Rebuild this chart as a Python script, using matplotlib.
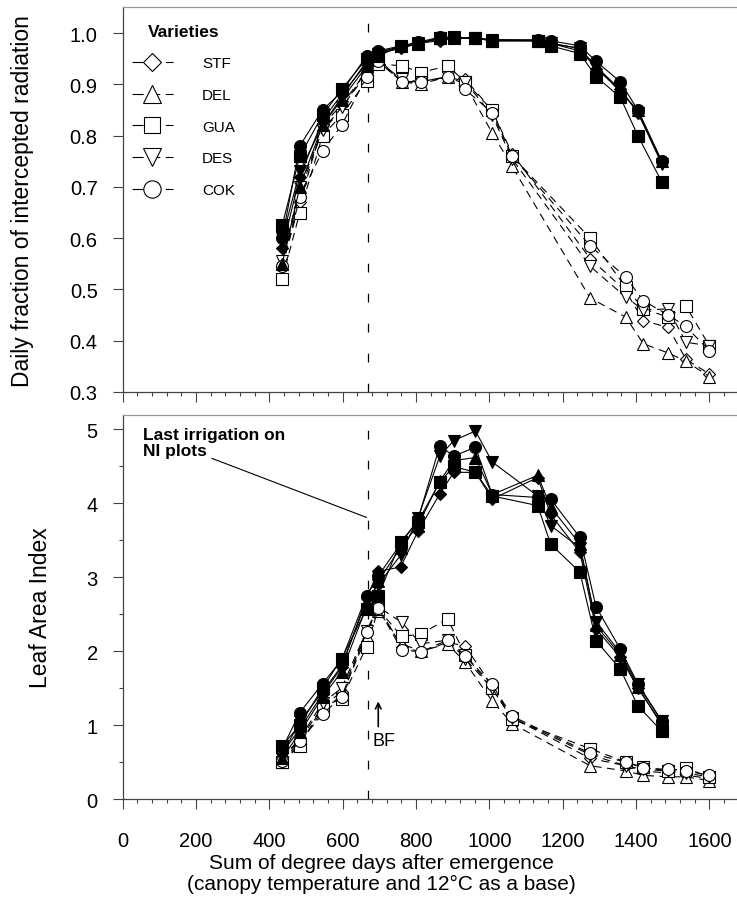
import matplotlib
matplotlib.use("Agg")
import matplotlib.pyplot as plt
from matplotlib.lines import Line2D
from matplotlib.ticker import MultipleLocator

plt.rcParams['font.family'] = ['Liberation Sans', 'DejaVu Sans']

varieties = ['STF', 'DEL', 'GUA', 'DES', 'COK']
markers = ['D', '^', 's', 'v', 'o']
msizes = [6.0, 8.5, 8.3, 8.5, 8.6]

# degree days of the sampling dates (FI = irrigated, NI = not irrigated)
x_fi = [435, 483, 545, 597, 665, 697, 758, 805, 865, 903, 962, 1008,
        1132, 1167, 1247, 1291, 1357, 1405, 1470]
x_ni = [435, 483, 545, 597, 665, 697, 761, 813, 886, 934, 1007, 1062,
        1275, 1372, 1420, 1488, 1536, 1600]

# daily fraction of intercepted radiation
rad_fi = {
    'STF': [.58, .72, .83, .88, .94, .965, .97, .98, .985, .99, .99, .985,
            .985, .98, .97, .93, .89, .845, .75],
    'DEL': [.55, .70, .82, .87, .935, .96, .975, .98, .99, .99, .99, .985,
            .985, .98, .965, .935, .885, .85, .75],
    'GUA': [.625, .76, .84, .89, .95, .955, .975, .978, .99, .992, .99, .985,
            .985, .975, .96, .915, .875, .80, .71],
    'DES': [.60, .73, .82, .875, .945, .96, .97, .98, .99, .99, .99, .987,
            .985, .98, .97, .935, .89, .845, .745],
    'COK': [.60, .78, .85, .885, .955, .965, .975, .982, .992, .992, .99, .987,
            .987, .985, .975, .945, .905, .85, .75],
}
rad_ni = {
    'STF': [.545, .67, .82, .86, .925, .945, .905, .905, .915, .91, .85, .765,
            .56, .497, .439, .426, .364, .335],
    'DEL': [.55, .69, .81, .85, .93, .95, .905, .90, .915, .90, .806, .74,
            .483, .446, .394, .376, .36, .33],
    'GUA': [.52, .65, .80, .84, .907, .94, .936, .923, .936, .905, .85, .76,
            .60, .504, .462, .446, .468, .39],
    'DES': [.555, .70, .81, .855, .92, .945, .91, .905, .915, .905, .84, .755,
            .545, .485, .46, .462, .397, .39],
    'COK': [.545, .68, .77, .82, .915, .945, .905, .905, .914, .89, .845, .76,
            .585, .524, .478, .45, .428, .38],
}

# leaf area index
lai_fi = {
    'STF': [0.62, 0.95, 1.42, 1.78, 2.72, 3.08, 3.14, 3.62, 4.13, 4.42, 4.42, 4.06,
            4.35, 3.85, 3.34, 2.30, 1.92, 1.50, 1.02],
    'DEL': [0.55, 0.90, 1.38, 1.72, 2.60, 2.95, 3.40, 3.70, 4.30, 4.58, 4.62, 4.12,
            4.38, 3.95, 3.45, 2.35, 1.95, 1.52, 1.00],
    'GUA': [0.72, 1.00, 1.50, 1.90, 2.57, 2.75, 3.48, 3.75, 4.29, 4.50, 4.42, 4.10,
            3.97, 3.45, 3.07, 2.14, 1.76, 1.26, 0.92],
    'DES': [0.60, 1.05, 1.45, 1.80, 2.68, 2.90, 3.30, 3.80, 4.64, 4.85, 4.98, 4.56,
            4.10, 3.70, 3.40, 2.40, 1.98, 1.55, 1.05],
    'COK': [0.68, 1.17, 1.56, 1.88, 2.75, 3.02, 3.45, 3.78, 4.78, 4.64, 4.76, 4.12,
            4.08, 4.06, 3.54, 2.60, 2.03, 1.56, 1.06],
}
lai_ni = {
    'STF': [0.55, 0.80, 1.25, 1.45, 2.25, 2.60, 2.06, 1.99, 2.12, 2.07, 1.53, 1.10,
            0.55, 0.45, 0.38, 0.35, 0.32, 0.28],
    'DEL': [0.50, 0.75, 1.20, 1.40, 2.20, 2.55, 2.10, 2.00, 2.10, 1.85, 1.33, 1.02,
            0.45, 0.38, 0.32, 0.30, 0.30, 0.25],
    'GUA': [0.50, 0.72, 1.26, 1.35, 2.06, 2.57, 2.20, 2.23, 2.44, 1.95, 1.50, 1.08,
            0.68, 0.50, 0.43, 0.38, 0.42, 0.30],
    'DES': [0.55, 0.82, 1.30, 1.50, 2.28, 2.60, 2.39, 2.10, 2.15, 1.90, 1.50, 1.10,
            0.60, 0.45, 0.40, 0.38, 0.35, 0.30],
    'COK': [0.52, 0.78, 1.15, 1.38, 2.26, 2.58, 2.02, 1.99, 2.15, 1.94, 1.55, 1.12,
            0.62, 0.50, 0.42, 0.40, 0.38, 0.32],
}

last_irrigation = 670

fig = plt.figure(figsize=(7.37, 9.04), dpi=100)
ax1 = fig.add_axes([0.1665, 0.5653, 0.8457, 0.4254])
ax2 = fig.add_axes([0.1665, 0.11504, 0.8457, 0.4251])


def draw(ax, ni, fi):
    for v, m, ms in zip(varieties, markers, msizes):
        ax.plot(x_ni, ni[v], ls=(0, (7, 5)), lw=0.8, color='k', marker=m, ms=ms,
                mfc='white', mec='k', mew=0.8)
    for v, m, ms in zip(varieties, markers, msizes):
        ax.plot(x_fi, fi[v], ls='-', lw=0.8, color='k', marker=m, ms=ms,
                mfc='k', mec='k', mew=0.8)
    ax.axvline(last_irrigation, color='k', lw=0.9, ls=(0, (7, 17)), zorder=0)


draw(ax1, rad_ni, rad_fi)
draw(ax2, lai_ni, lai_fi)

for ax in (ax1, ax2):
    ax.set_xlim(0, 1700)
    ax.xaxis.set_major_locator(MultipleLocator(200))
    ax.xaxis.set_minor_locator(MultipleLocator(40))
    ax.tick_params(which='major', direction='out', length=7, width=0.8,
                   color='#444444', labelsize=14.5)
    ax.tick_params(which='minor', direction='out', length=3.2, width=0.8,
                   color='#444444')
    ax.tick_params(axis='y', pad=11)
    ax.tick_params(axis='x', pad=16)
    for s in ('left', 'bottom'):
        ax.spines[s].set_color('#444444')
        ax.spines[s].set_linewidth(0.9)
    for s in ('top', 'right'):
        ax.spines[s].set_color('#999999')
        ax.spines[s].set_linewidth(0.9)

ax1.set_ylim(0.3, 1.05)
ax1.yaxis.set_major_locator(MultipleLocator(0.1))
ax1.yaxis.set_major_formatter('{x:.1f}')
ax1.tick_params(axis='x', labelbottom=False)
ax1.set_ylabel('Daily fraction of intercepted radiation', fontsize=16.5)
ax1.yaxis.set_label_coords(-0.142, 0.5)

ax2.set_ylim(0, 5.2)
ax2.yaxis.set_major_locator(MultipleLocator(1))
ax2.yaxis.set_minor_locator(MultipleLocator(0.5))
ax2.set_ylabel('Leaf Area Index', fontsize=16.5)
ax2.yaxis.set_label_coords(-0.113, 0.5)
ax2.set_xlabel('Sum of degree days after emergence\n(canopy temperature and 12°C as a base)',
               fontsize=15, linespacing=1.1)
ax2.xaxis.set_label_coords(0.415, -0.141)

# legend of varieties
handles = [Line2D([], [], color='k', lw=0.8, ls=(0, (10, 5)), marker=m, ms=ms * 1.45,
                  mfc='white', mec='k', mew=0.8)
           for m, ms in zip(markers, msizes)]
leg = ax1.legend(handles, varieties, title='Varieties', loc='upper left',
                 bbox_to_anchor=(0.0144, 0.958), frameon=False, fontsize=11,
                 borderpad=0, borderaxespad=0, handlelength=2.7, handletextpad=1.9,
                 labelspacing=1.16, title_fontproperties={'weight': 'bold', 'size': 12.5})

# annotations in the LAI panel
ax2.text(56, 5.04, 'Last irrigation on\nNI plots', fontsize=12.5, fontweight='bold',
         ha='left', va='top', linespacing=1.15)
ax2.annotate('', xy=(665, 3.81), xytext=(243, 4.61),
             arrowprops=dict(arrowstyle='-', lw=0.8, color='k', shrinkA=0, shrinkB=0))
ax2.annotate('', xy=(697, 1.32), xytext=(697, 0.98),
             arrowprops=dict(arrowstyle='->', lw=1.2, color='k', shrinkA=0, shrinkB=0))
ax2.text(712, 0.79, 'BF', fontsize=13, ha='center', va='center')

fig.savefig('out.png', dpi=100)
